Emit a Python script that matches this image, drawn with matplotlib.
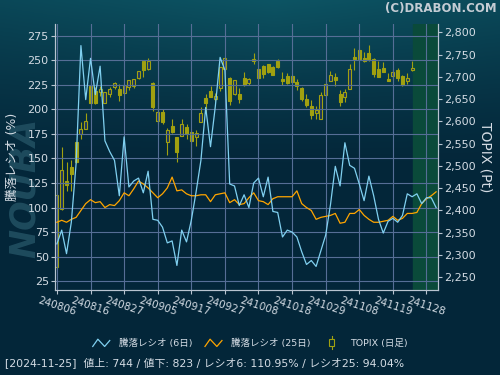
import numpy as np
import matplotlib
matplotlib.use('Agg')
import matplotlib.pyplot as plt
from matplotlib.legend_handler import HandlerBase
from matplotlib.lines import Line2D
from matplotlib.patches import Rectangle
from matplotlib.ticker import MultipleLocator, FuncFormatter

plt.rcParams['font.family'] = ['DejaVu Sans', 'Noto Sans CJK JP']

# 騰落レシオ (6日 / 25日), 営業日ごと
ratio6 = [63, 77, 53, 85, 145, 265, 210, 252, 215, 244,
          168, 157, 148, 112, 172, 121, 127, 130, 115, 137,
          88, 87, 80, 64, 66, 41, 77, 65, 87, 116,
          148, 202, 162, 203, 253, 240, 124, 122, 102, 113,
          100, 125, 130, 111, 131, 96, 95, 70, 77, 75,
          70, 55, 42, 46, 40, 56, 72, 103, 142, 122,
          166, 143, 140, 124, 107, 132, 112, 88, 74, 86,
          89, 85, 92, 114, 111, 114, 104, 110, 110, 100]
ratio25 = [85, 87, 85, 88, 90, 97, 104, 108, 105, 106,
           100, 103, 102, 107, 115, 112, 119, 127, 124, 120,
           115, 110, 114, 120, 131, 117, 118, 114, 112, 112,
           113, 113, 106, 113, 114, 115, 105, 108, 103, 104,
           110, 115, 107, 106, 103, 109, 111, 111, 111, 111,
           117, 104, 100, 97, 88, 90, 91, 92, 94, 84,
           85, 94, 94, 98, 92, 88, 85, 85, 86, 87,
           91, 87, 89, 94, 94, 95, 104, 109, 112, 116]

# TOPIX 日足 (始値, 高値, 安値, 終値)
topix_open = [2272, 2403, 2465, 2497, 2553, 2572, 2584, 2680, 2667, 2667,
              2642, 2661, 2678, 2673, 2663, 2677, 2680, 2697, 2735, 2717,
              2686, 2602, 2620, 2553, 2590, 2564, 2568, 2587, 2575, 2566,
              2599, 2652, 2667, 2650, 2675, 2717, 2697, 2661, 2661, 2697,
              2687, 2735, 2717, 2723, 2729, 2721, 2736, 2695, 2701, 2701,
              2688, 2674, 2650, 2635, 2618, 2605, 2660, 2690, 2700, 2661,
              2655, 2673, 2745, 2760, 2742, 2753, 2740, 2718, 2720, 2695,
              2703, 2714, 2702, 2690, 2716]
topix_high = [2471, 2542, 2508, 2513, 2553, 2598, 2618, 2684, 2677, 2680,
              2666, 2677, 2688, 2684, 2684, 2693, 2695, 2714, 2735, 2742,
              2688, 2654, 2628, 2585, 2605, 2566, 2605, 2594, 2583, 2581,
              2632, 2661, 2680, 2663, 2721, 2744, 2700, 2693, 2675, 2710,
              2697, 2754, 2718, 2727, 2730, 2725, 2740, 2712, 2708, 2706,
              2695, 2678, 2661, 2648, 2635, 2665, 2692, 2714, 2708, 2671,
              2672, 2730, 2764, 2765, 2755, 2771, 2742, 2736, 2733, 2708,
              2718, 2720, 2704, 2708, 2736]
topix_low = [2269, 2400, 2444, 2444, 2506, 2560, 2583, 2641, 2639, 2658,
             2641, 2655, 2673, 2646, 2661, 2671, 2676, 2695, 2700, 2715,
             2624, 2594, 2594, 2525, 2575, 2508, 2568, 2560, 2521, 2545,
             2599, 2619, 2654, 2645, 2669, 2715, 2638, 2660, 2642, 2680,
             2682, 2730, 2697, 2697, 2708, 2705, 2721, 2682, 2684, 2684,
             2670, 2646, 2632, 2605, 2605, 2605, 2654, 2690, 2680, 2635,
             2643, 2673, 2716, 2740, 2733, 2736, 2699, 2700, 2712, 2690,
             2693, 2691, 2680, 2685, 2714]
topix_close = [2433, 2491, 2458, 2482, 2508, 2582, 2600, 2642, 2641, 2672,
               2665, 2672, 2686, 2659, 2682, 2692, 2694, 2712, 2716, 2735,
               2633, 2620, 2598, 2581, 2577, 2531, 2594, 2572, 2555, 2573,
               2618, 2641, 2656, 2656, 2721, 2742, 2647, 2693, 2651, 2682,
               2695, 2740, 2697, 2706, 2712, 2705, 2723, 2690, 2687, 2688,
               2680, 2650, 2638, 2615, 2626, 2659, 2684, 2704, 2694, 2644,
               2666, 2717, 2741, 2740, 2736, 2741, 2706, 2700, 2712, 2690,
               2710, 2697, 2682, 2697, 2720]

date_labels = ['240806', '240816', '240827', '240905', '240917', '240927',
               '241008', '241018', '241029', '241108', '241119', '241128']
tick_step = 7

status = '[2024-11-25]  値上: 744 / 値下: 823 / レシオ6: 110.95% / レシオ25: 94.04%'

c_cyan = '#80d0f0'
c_orange = '#ffa500'
c_olive = '#a0a010'
c_navy = '#1b3461'
c_text = '#d4dce4'
c_axis = '#b8c4d0'


class ZigzagHandler(HandlerBase):
    def create_artists(self, legend, orig_handle, xdescent, ydescent,
                       width, height, fontsize, trans):
        xs = np.array([0.0, 0.3, 0.7, 1.0]) * width - xdescent
        ys = np.array([-0.1, 1.0, -0.1, 0.8]) * height - ydescent
        ln = Line2D(xs, ys, color=orig_handle.get_color(), lw=0.9)
        ln.set_transform(trans)
        return [ln]


class CandleHandler(HandlerBase):
    def create_artists(self, legend, orig_handle, xdescent, ydescent,
                       width, height, fontsize, trans):
        cx = width / 2 - xdescent
        wick = Line2D([cx, cx], [-ydescent - 0.5 * height, -ydescent + 1.5 * height],
                      color=c_olive, lw=0.8)
        wick.set_transform(trans)
        body = Rectangle((cx - 0.4 * height, -ydescent - 0.1 * height),
                         0.8 * height, 1.2 * height,
                         facecolor='#042a3c', edgecolor=c_olive, lw=0.8)
        body.set_transform(trans)
        return [wick, body]


fig = plt.figure(figsize=(5, 3.75), dpi=100)

# 背景グラデーション
bg = fig.add_axes([0, 0, 1, 1], zorder=-10)
yy, xx = np.mgrid[0:1:200j, 0:1:200j]
top = np.array([0.05, 0.33, 0.39])
bottom = np.array([0.015, 0.15, 0.225])
f = np.clip(1 - yy / 0.45, 0, 1) ** 1.3 * (1 - 0.5 * np.abs(xx - 0.55))
grad = bottom + (top - bottom) * f[..., None]
bg.imshow(grad, aspect='auto', extent=[0, 1, 0, 1], origin='upper')
bg.axis('off')

# 左側の透かし
bg.text(0.05, 0.50, 'NOUBA', rotation=90, fontsize=25, fontweight='bold',
        fontstyle='italic', color='#1e4b5d', ha='center', va='center',
        transform=bg.transAxes)

ax = fig.add_axes([0.11, 0.2267, 0.766, 0.7093])
ax2 = ax.twinx()
ax.set_zorder(ax2.get_zorder() + 1)
ax.patch.set_visible(False)
ax2.patch.set_facecolor(c_navy)

x_line = np.arange(len(ratio6))
x_candle = np.arange(len(topix_close))

# 最終日以降の網掛け
ax2.axvspan(x_candle[-1] + 0.2, x_line[-1] + 1, color='#0a4a3a', zorder=0)

# ローソク足
o = np.array(topix_open)
c = np.array(topix_close)
up = c >= o
ax2.vlines(x_candle, topix_low, topix_high, color=c_olive, lw=0.8, zorder=2)
ax2.bar(x_candle, np.abs(c - o) + 0.5, bottom=np.minimum(o, c), width=0.62,
        color=np.where(up, c_navy, c_olive), edgecolor=c_olive, lw=0.8, zorder=3)

ax.plot(x_line, ratio25, color=c_orange, lw=0.9, zorder=4)
ax.plot(x_line, ratio6, color=c_cyan, lw=0.9, zorder=5)

ax.set_xlim(-0.4, 79.4)
ax.set_ylim(16, 287)
ax2.set_ylim(2221, 2819)

ax.yaxis.set_major_locator(MultipleLocator(25))
ax2.yaxis.set_major_locator(MultipleLocator(50))
ax2.yaxis.set_major_formatter(FuncFormatter(lambda v, p: f'{v:,.0f}'))

ax.set_xticks(np.arange(len(date_labels)) * tick_step)
ax.set_xticklabels(date_labels, rotation=-18, ha='center')

ax.grid(True, color='#566e96', lw=0.8)

for a in (ax, ax2):
    a.tick_params(colors=c_axis, labelcolor=c_text, labelsize=8, length=3, width=0.8, pad=1.5)
    for s in ('left', 'right', 'bottom'):
        a.spines[s].set_color(c_axis)
        a.spines[s].set_linewidth(0.8)
    a.spines['top'].set_visible(False)
ax.tick_params(axis='x', labelsize=7.5, pad=1)

ax.set_ylabel('騰落レシオ (%)', color=c_text, fontsize=9, labelpad=6)
ax2.set_ylabel('TOPIX (Pt)', color=c_text, fontsize=10, rotation=270, labelpad=12)

# 凡例
h6 = Line2D([], [], color=c_cyan)
h25 = Line2D([], [], color=c_orange)
hc = Rectangle((0, 0), 1, 1)
fig.legend([h6, h25, hc], ['騰落レシオ (6日)', '騰落レシオ (25日)', 'TOPIX (日足)'],
           handler_map={Line2D: ZigzagHandler(), Rectangle: CandleHandler()},
           loc='center', bbox_to_anchor=(0.5, 0.085), ncol=3, frameon=False,
           fontsize=6.8, labelcolor=c_text, handlelength=1.8, handletextpad=1.0,
           columnspacing=1.3)

fig.text(0.01, 0.032, status, color=c_text, fontsize=7.8, ha='left', va='center')
fig.text(0.994, 0.977, '(C)DRABON.COM', color='#c4ccd4', fontsize=8.5,
         fontweight='bold', ha='right', va='center')

fig.savefig('out.png', dpi=100, facecolor=fig.get_facecolor())
